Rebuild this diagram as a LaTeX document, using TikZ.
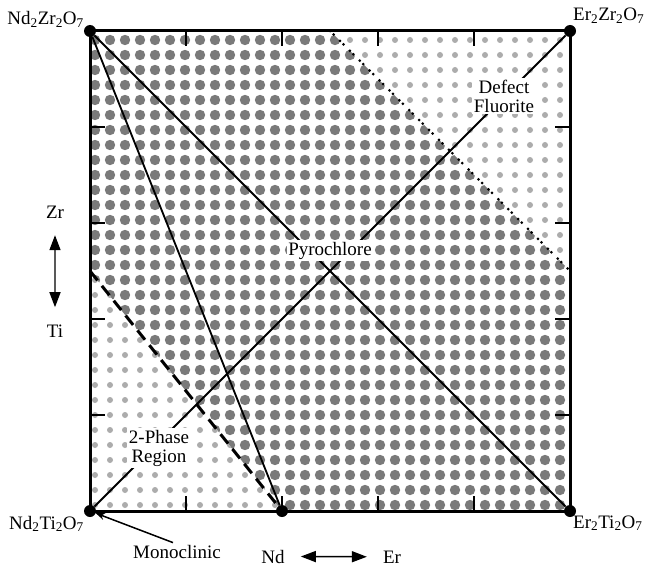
\documentclass[tikz,border=0pt]{standalone}
\usepackage{fontspec}
\setmainfont{Liberation Serif}
\usetikzlibrary{arrows.meta}
\newcommand{\sbs}[1]{\textsubscript{#1}}
\begin{document}
\begin{tikzpicture}[x=1pt,y=-1pt,
  cdot/.style={circle,fill=black,inner sep=0pt,minimum size=12pt},
  lbl/.style={font=\fontsize{19}{19}\selectfont,inner sep=0pt},
  inlbl/.style={lbl,fill=white,inner sep=1.5pt,align=center},
  comp/.style={line width=1.8pt},
  darkdot/.style={fill={rgb,255:red,122;green,122;blue,122}},
  lightdot/.style={fill={rgb,255:red,172;green,172;blue,172}},
  tickm/.style={line width=1.8pt},
  lead/.style={line width=1.5pt,-{Stealth[length=9pt,width=7pt]}},
  dbl/.style={line width=1.5pt,{Triangle[length=15pt,width=11pt,color=black]}-{Triangle[length=15pt,width=11pt,color=black]}}
]
\useasboundingbox (0,0) rectangle (645,567);
\fill[white] (0,0) rectangle (645,567);

% halftone regions
\begin{scope}
  \clip (90,31) -- (330,31) -- (570,271) -- (570,511) -- (282,511) -- (90,271) -- cycle;
  \foreach \i in {0,...,31}{\foreach \j in {0,...,31}{
    \fill[darkdot] (95+15*\i,40+15*\j) circle[radius=5.2pt];}}
\end{scope}
\begin{scope}
  \clip (330,31) -- (570,31) -- (570,271) -- cycle;
  \foreach \i in {0,...,31}{\foreach \j in {0,...,31}{
    \fill[lightdot] (95+15*\i,40+15*\j) circle[radius=3pt];}}
\end{scope}
\begin{scope}
  \clip (90,271) -- (282,511) -- (90,511) -- cycle;
  \foreach \i in {0,...,31}{\foreach \j in {0,...,31}{
    \fill[lightdot] (95+15*\i,40+15*\j) circle[radius=3pt];}}
\end{scope}

% corners and composition points
\node[cdot] (A) at (90,31) {};
\node[cdot] (B) at (570,31) {};
\node[cdot] (C) at (90,511) {};
\node[cdot] (D) at (570,511) {};
\node[cdot] (N) at (282,511) {};
\coordinate (T5) at (330,31);
\coordinate (R5) at (570,271);
\coordinate (L5) at (90,271);

% composition lines
\draw[comp] (A) -- (D);
\draw[comp] (A) -- (N);
\draw[comp] (C) -- (B);
\draw[line width=3pt,dash pattern=on 12pt off 7pt] (L5) -- (N);
\draw[line width=3pt,line cap=round,dash pattern=on 0pt off 5pt on 0pt off 9pt] (T5) -- (R5);

% labels inside
\node[inlbl,anchor=base] (pyro) at (330,255) {Pyrochlore};
\node[inlbl] (defl) at (504,96) {Defect\\Fluorite};
\node[inlbl] (twoph) at (159,448) {2-Phase\\Region};

% frame and ticks
\draw[line width=3pt] (A.center) rectangle (D.center);
\foreach \t in {186,282,378,474}{
  \draw[tickm] (\t,31) -- (\t,46);
  \draw[tickm] (\t,511) -- (\t,496);}
\foreach \t in {127,223,319,415}{
  \draw[tickm] (90,\t) -- (105,\t);
  \draw[tickm] (570,\t) -- (555,\t);}

% corner labels
\node[lbl,anchor=base east] (lNdZr) at (84,25) {Nd\sbs{2}Zr\sbs{2}O\sbs{7}};
\node[lbl,anchor=base west] (lErZr) at (573,21) {Er\sbs{2}Zr\sbs{2}O\sbs{7}};
\node[lbl,anchor=base east] (lNdTi) at (84,529) {Nd\sbs{2}Ti\sbs{2}O\sbs{7}};
\node[lbl,anchor=base west] (lErTi) at (573,528) {Er\sbs{2}Ti\sbs{2}O\sbs{7}};

% monoclinic
\node[lbl,anchor=base] (mono) at (177,558) {Monoclinic};
\draw[lead] ([xshift=-4pt,yshift=2pt]mono.north) -- (C);

% axis arrows
\node[lbl,anchor=base] (zr) at (55,218) {Zr};
\node[lbl,anchor=base] (ti) at (55,337) {Ti};
\draw[dbl,color=black!65] ([yshift=-17pt]zr.south) -- ([yshift=17pt]ti.north);
\node[lbl,anchor=base] (nd) at (273,563) {Nd};
\node[lbl,anchor=base] (er) at (392,563) {Er};
\draw[dbl] ([xshift=16pt]nd.east) -- ([xshift=-16pt]er.west);
\end{tikzpicture}
\end{document}
